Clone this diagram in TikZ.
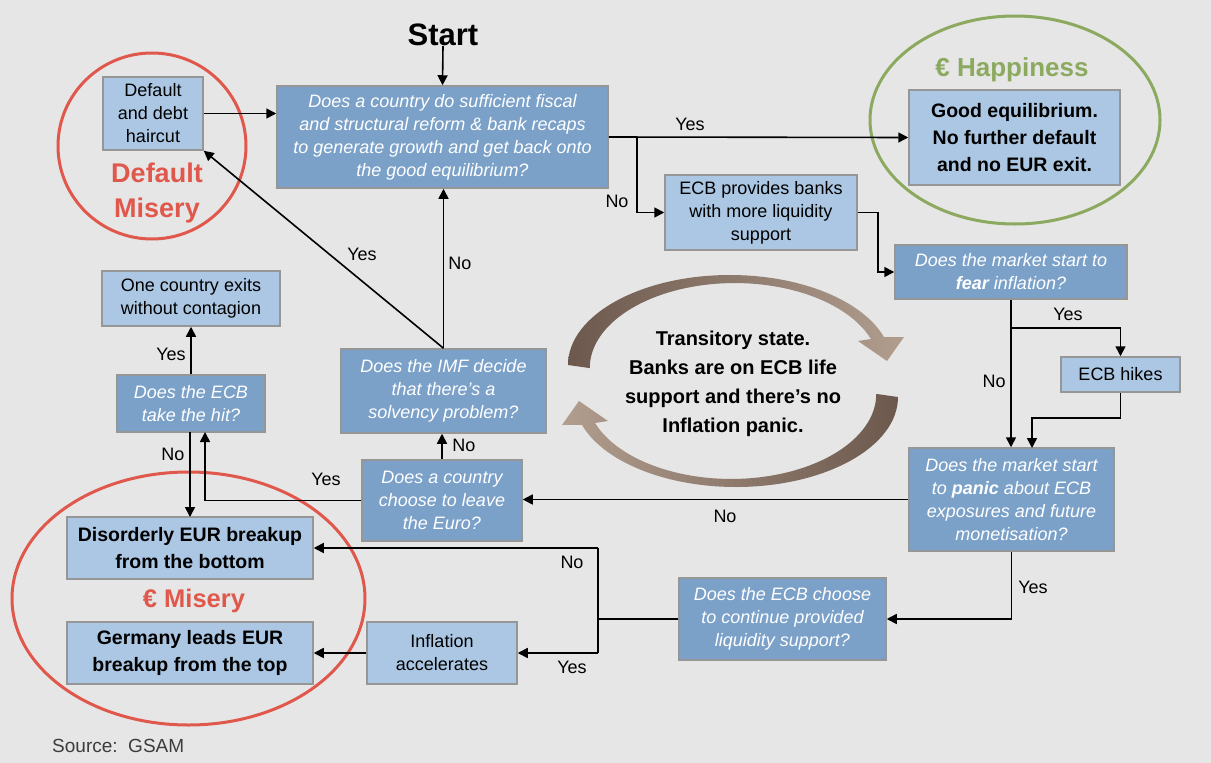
\documentclass[tikz,border=0pt]{standalone}
\usepackage{fontspec}
\setmainfont{Liberation Sans}
\usetikzlibrary{arrows.meta}
\definecolor{bg}{RGB}{230,230,230}
\definecolor{dkb}{RGB}{123,161,201}
\definecolor{ltb}{RGB}{171,199,227}
\definecolor{bd}{RGB}{150,150,150}
\definecolor{redc}{RGB}{224,88,76}
\definecolor{grnc}{RGB}{140,170,95}
\definecolor{brdark}{RGB}{108,88,76}
\definecolor{brlight}{RGB}{178,158,143}
\definecolor{srcc}{RGB}{60,60,60}
\begin{document}
\begin{tikzpicture}[x=1pt,y=-1pt,
  box/.style={draw=bd,line width=1.5pt,inner sep=0pt,align=center},
  dark/.style={box,fill=dkb,text=white,font=\fontsize{18}{23}\selectfont\itshape},
  light/.style={box,fill=ltb,text=black,font=\fontsize{18}{23}\selectfont},
  lightbold/.style={box,fill=ltb,text=black,font=\fontsize{19.5}{27}\selectfont\bfseries},
  lbl/.style={font=\fontsize{18}{22}\selectfont,inner sep=0pt},
  conn/.style={line width=1.6pt,-{Triangle[length=10pt,width=10pt]}},
  ln/.style={line width=1.6pt},
  ring/.style={line width=3pt},
]
\fill[bg] (0,0) rectangle (1211,763);
\useasboundingbox (0,0) rectangle (1211,763);

% ellipses
\draw[ring,redc] (152,146) ellipse[x radius=94,y radius=93];
\draw[ring,grnc] (1015,120) ellipse[x radius=145,y radius=104];
\draw[ring,redc] (188.5,598.5) ellipse[x radius=176.5,y radius=126.5];

% titles
\node[font=\fontsize{31}{34}\selectfont\bfseries,inner sep=0pt] (start) at (443,35) {Start};
\node[font=\fontsize{26}{30}\selectfont\bfseries,text=grnc,inner sep=0pt] (happy) at (1012,70) {€ Happiness};
\node[font=\fontsize{27}{35}\selectfont\bfseries,text=redc,align=center,inner sep=0pt] (dmis) at (157,193) {Default\\Misery};
\node[font=\fontsize{25.5}{30}\selectfont\bfseries,text=redc,inner sep=0pt] (emis) at (194,601) {€ Misery};
\node[font=\fontsize{19}{22}\selectfont,text=srcc,anchor=west,inner sep=0pt] (src) at (52,746) {Source:\ \ GSAM};

% boxes
\node[light,minimum width=100pt,minimum height=73pt] (dflt) at (153,113.5) {Default\\and debt\\haircut};
\node[dark,minimum width=331pt,minimum height=102pt] (q1) at (442.5,137) {Does a country do sufficient fiscal\\and structural reform \& bank recaps\\to generate growth and get back onto\\the good equilibrium?};
\node[lightbold,minimum width=211pt,minimum height=95pt] (good) at (1014.5,137.5) {Good equilibrium.\\No further default\\and no EUR exit.};
\node[light,minimum width=192pt,minimum height=75pt] (ecbliq) at (761,212.5) {ECB provides banks\\with more liquidity\\support};
\node[dark,minimum width=232pt,minimum height=54pt] (fear) at (1011,272) {Does the market start to\\\textbf{fear} inflation?};
\node[light,minimum width=119pt,minimum height=35pt] (hikes) at (1120.5,374.5) {ECB hikes};
\node[dark,minimum width=205pt,minimum height=103pt] (panic) at (1011.5,499.5) {Does the market start\\to \textbf{panic} about ECB\\exposures and future\\monetisation?};
\node[dark,minimum width=207pt,minimum height=82pt] (choose) at (782.5,619) {Does the ECB choose\\to continue provided\\liquidity support?};
\node[light,minimum width=150pt,minimum height=62pt] (infl) at (442,653) {Inflation\\accelerates};
\node[lightbold,minimum width=246pt,minimum height=62pt] (germ) at (190,653) {Germany leads EUR\\breakup from the top};
\node[lightbold,minimum width=246pt,minimum height=62pt] (disord) at (190,548) {Disorderly EUR breakup\\from the bottom};
\node[dark,minimum width=160pt,minimum height=81pt] (leave) at (442,500.5) {Does a country\\choose to leave\\the Euro?};
\node[dark,minimum width=205pt,minimum height=84pt] (imf) at (443.5,391) {Does the IMF decide\\that there’s a\\solvency problem?};
\node[dark,minimum width=148pt,minimum height=57pt] (hit) at (191,403.5) {Does the ECB\\take the hit?};
\node[light,minimum width=178pt,minimum height=55pt] (one) at (191,298.5) {One country exits\\without contagion};

% transitory state
\shade[left color=brdark,right color=brlight]
  (568,365) arc[start angle=180,end angle=342,x radius=162,y radius=90]
  -- (904,337) -- (887,361) -- (858,341) -- (871,339)
  arc[start angle=340,end angle=180,x radius=145,y radius=85] -- cycle;
\shade[left color=brlight,right color=brdark]
  (898,397) arc[start angle=0,end angle=162,x radius=162,y radius=90]
  -- (562,425) -- (579,401) -- (608,421) -- (595,423)
  arc[start angle=160,end angle=0,x radius=145,y radius=85] -- cycle;
\node[font=\fontsize{20}{29}\selectfont\bfseries,align=center,inner sep=0pt] (trans) at (733,383.5) {Transitory state.\\Banks are on ECB life\\support and there’s no\\Inflation panic.};

% connectors
\coordinate (b1) at (637,137);
\coordinate (b2) at (1011,328);
\coordinate (b3) at (598,619);
\draw[conn] (start.south) -- (q1.north);
\draw[conn] (dflt.east) -- (dflt.east -| q1.west);
\draw[conn] (q1.east) -- (good.west);
\draw[conn] (b1) |- (ecbliq.west);
\draw[conn] (ecbliq.east) -- ++(20,0) |- (fear.west);
\draw[conn] (fear.south) -- (fear.south |- panic.north);
\draw[conn] (b2) -| (hikes.north);
\draw[conn] (hikes.south) -- ++(0,25) -| (1032,448);
\draw[conn] (panic.west) -- (panic.west -| leave.east);
\draw[conn] (panic.south) |- (choose.east);
\draw[ln] (choose.west) -- (b3);
\draw[ln] (598,548) -- (598,653);
\draw[conn] (598,548) -- (disord.east);
\draw[conn] (598,653) -- (infl.east);
\draw[conn] (infl.west) -- (germ.east);
\draw[conn] (leave.west) -| (205,432);
\draw[conn] (leave.north) -- (leave.north |- imf.south);
\draw[conn] (imf.north) -- (imf.north |- q1.south);
\draw[conn] (imf.north) -- (dflt.south east);
\draw[conn] (hit.north) -- (one.south);
\draw[conn] (190,432) -- (190,517);

% labels
\node[lbl] (y1) at (690,124) {Yes};
\node[lbl] (n1) at (617,201) {No};
\node[lbl] (y2) at (1068,314) {Yes};
\node[lbl] (n2) at (994,381) {No};
\node[lbl] (n3) at (725,516) {No};
\node[lbl] (y3) at (1033,587) {Yes};
\node[lbl] (n4) at (572,562) {No};
\node[lbl] (y4) at (572,667) {Yes};
\node[lbl] (y5) at (326,479) {Yes};
\node[lbl] (n5) at (464,445) {No};
\node[lbl] (n6) at (460,263) {No};
\node[lbl] (y6) at (362,254) {Yes};
\node[lbl] (y7) at (171,354) {Yes};
\node[lbl] (n7) at (173,454) {No};
\end{tikzpicture}
\end{document}
